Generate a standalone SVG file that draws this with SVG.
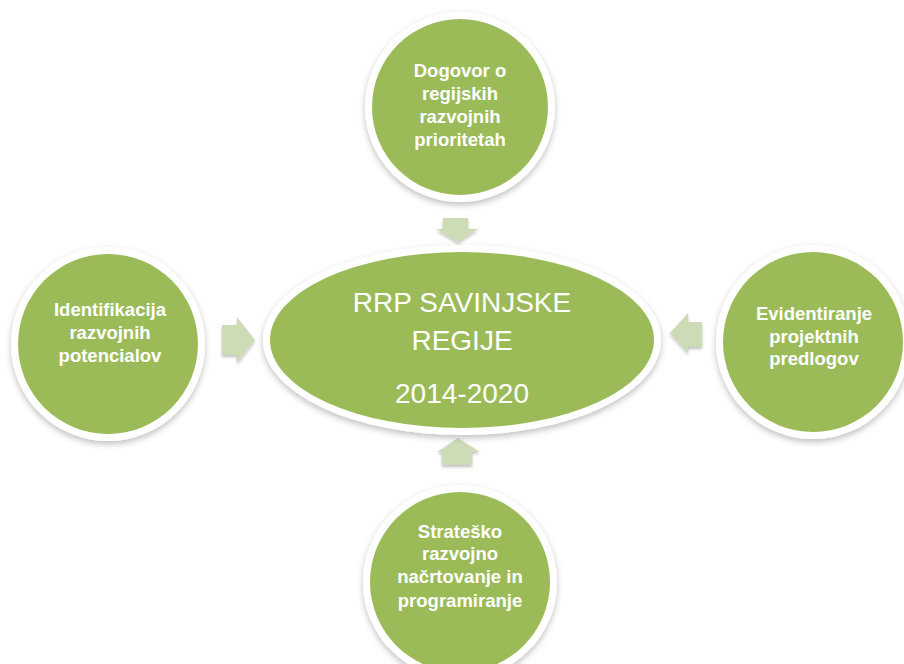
<svg xmlns="http://www.w3.org/2000/svg" width="904" height="664" viewBox="0 0 904 664">
<defs>
<filter id="sh" x="-20%" y="-20%" width="140%" height="140%">
<feDropShadow dx="0" dy="3" stdDeviation="3" flood-color="#000" flood-opacity="0.25"/>
</filter>
<filter id="ash" x="-30%" y="-30%" width="160%" height="160%">
<feDropShadow dx="0" dy="2" stdDeviation="1.5" flood-color="#000" flood-opacity="0.25"/>
</filter>
<style>
.ring{fill:#fff;filter:url(#sh)}
.g{fill:#9bbb59}
.arr{fill:#cddcb6;filter:url(#ash)}
.t{font-family:"Liberation Sans",Arial,sans-serif;font-weight:bold;font-size:18.5px;fill:#fff;text-anchor:middle}
.c{font-family:"Liberation Sans",Arial,sans-serif;font-size:28px;fill:#fff;text-anchor:middle}
</style>
</defs>
<rect width="904" height="664" fill="#fff"/>
<g id="connectors">
<polygon class="arr" points="443,218 468,218 468,229 478,229 458,242 436,229 443,229"/>
<polygon class="arr" points="222,325 237,325 237,317 255,340 237,363 237,355 222,355"/>
<polygon class="arr" points="702,322 688,322 688,313 670,333 688,353 688,347 702,347"/>
<polygon class="arr" points="442,465 472,465 472,452 480,452 458,438 437,452 442,452"/>
</g>
<g id="center">
<ellipse class="ring" cx="462" cy="340" rx="199" ry="95"/>
<ellipse class="g" cx="462" cy="340" rx="192" ry="88"/>
<text class="c" x="462" y="312">RRP SAVINJSKE</text>
<text class="c" x="462" y="350">REGIJE</text>
<text class="c" x="462" y="403">2014-2020</text>
</g>
<g id="top">
<circle class="ring" cx="460" cy="107" r="95"/>
<circle class="g" cx="460" cy="107" r="88"/>
<text class="t" x="460" y="77">Dogovor o</text>
<text class="t" x="460" y="100">regijskih</text>
<text class="t" x="460" y="123">razvojnih</text>
<text class="t" x="460" y="146">prioritetah</text>
</g>
<g id="left">
<circle class="ring" cx="108" cy="344" r="97"/>
<circle class="g" cx="108" cy="344" r="90"/>
<text class="t" x="110" y="316">Identifikacija</text>
<text class="t" x="110" y="339">razvojnih</text>
<text class="t" x="110" y="362">potencialov</text>
</g>
<g id="right">
<circle class="ring" cx="813" cy="342" r="97"/>
<circle class="g" cx="813" cy="342" r="90"/>
<text class="t" x="814" y="320">Evidentiranje</text>
<text class="t" x="814" y="343">projektnih</text>
<text class="t" x="814" y="365">predlogov</text>
</g>
<g id="bottom">
<circle class="ring" cx="460" cy="582" r="97"/>
<circle class="g" cx="460" cy="582" r="90"/>
<text class="t" x="460" y="538">Strateško</text>
<text class="t" x="460" y="560">razvojno</text>
<text class="t" x="460" y="583">načrtovanje in</text>
<text class="t" x="460" y="607">programiranje</text>
</g>
</svg>
